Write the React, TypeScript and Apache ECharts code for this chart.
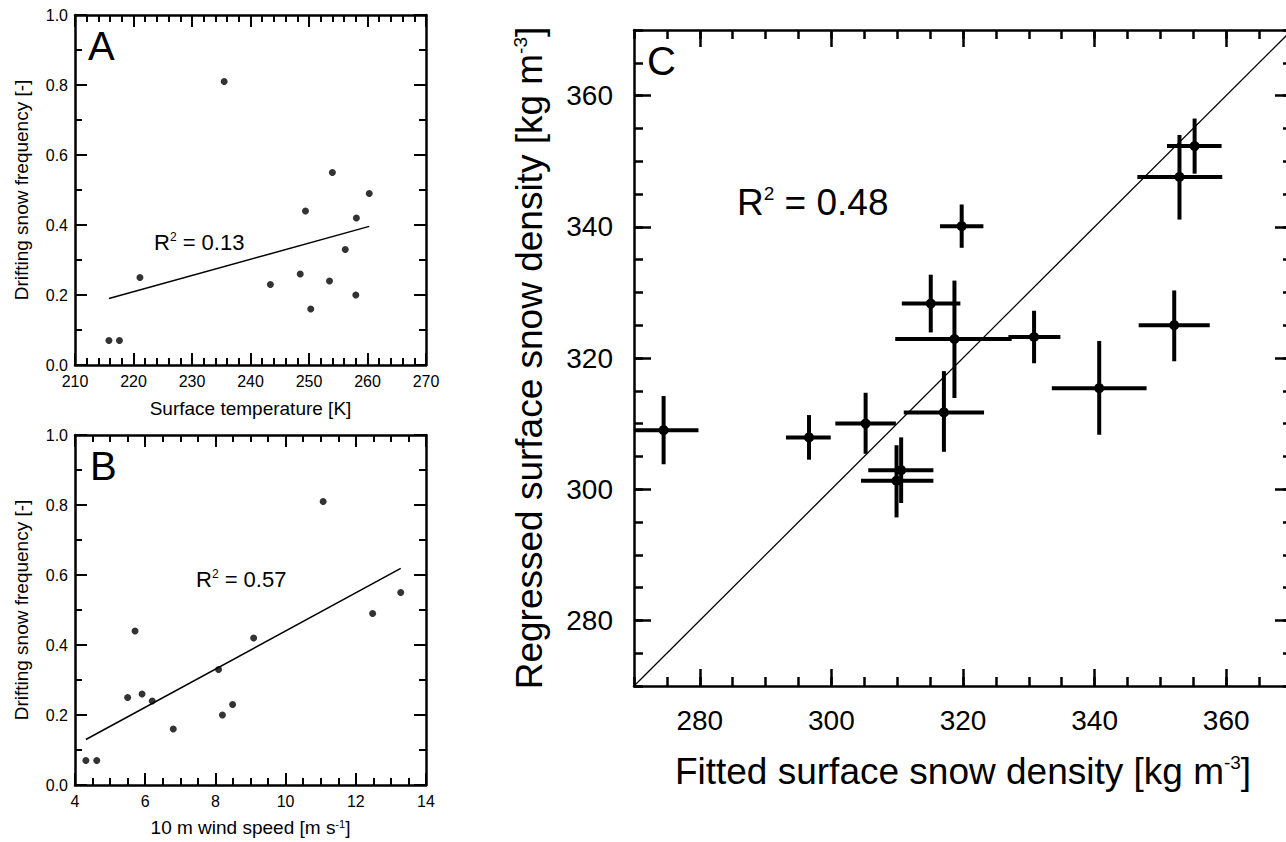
import { useEffect, useRef } from 'react';
import * as echarts from 'echarts';

const FONT = '"Liberation Sans", Arial, Helvetica, sans-serif';
const BLACK = '#000';

// Panel A: surface temperature vs drifting snow frequency
const tempA = [215.8, 217.6, 221.1, 235.5, 243.4, 248.5, 249.4, 250.3, 253.5, 254.0, 256.2, 258.1, 258.0, 260.3];
const freqA = [0.07, 0.07, 0.25, 0.81, 0.23, 0.26, 0.44, 0.16, 0.24, 0.55, 0.33, 0.42, 0.2, 0.49];
const fitA = [[215.8, 0.19], [260.3, 0.396]];

// Panel B: 10 m wind speed vs drifting snow frequency
const windB = [4.31, 4.62, 5.5, 5.71, 5.91, 6.2, 6.8, 8.09, 8.2, 8.49, 9.09, 11.07, 12.48, 13.28];
const freqB = [0.07, 0.07, 0.25, 0.44, 0.26, 0.24, 0.16, 0.33, 0.2, 0.23, 0.42, 0.81, 0.49, 0.55];
const fitB = [[4.31, 0.13], [13.28, 0.619]];

// Panel C: fitted vs regressed surface snow density, with error bars
const fittedC = [355.2, 352.9, 319.8, 315.1, 318.7, 330.8, 352.1, 340.7, 317.1, 310.6, 309.9, 274.5, 296.6, 305.2];
const fittedLoC = [351.0, 346.5, 316.5, 310.7, 309.7, 326.9, 346.7, 333.5, 311.0, 305.6, 304.5, 269.3, 293.1, 300.6];
const fittedHiC = [359.3, 359.4, 323.1, 319.6, 327.4, 334.8, 357.5, 347.9, 323.2, 315.5, 315.5, 279.8, 299.9, 309.8];
const regressedC = [352.3, 347.6, 340.1, 328.3, 322.9, 323.2, 325.0, 315.4, 311.7, 302.9, 301.3, 309.0, 307.9, 310.0];
const regressedLoC = [348.1, 341.1, 336.8, 323.9, 313.9, 319.2, 319.5, 308.3, 305.7, 297.9, 295.7, 303.8, 304.5, 305.4];
const regressedHiC = [356.5, 354.0, 343.4, 332.7, 331.8, 327.2, 330.3, 322.6, 318.0, 307.9, 306.7, 314.2, 311.3, 314.7];
const oneToOne = [270, 370];
const majorTicksC = [280, 300, 320, 340, 360];

const r2Values = ['0.13', '0.57', '0.48'];
const panelLetters = ['A', 'B', 'C'];

function valAxis(o: any) {
  return {
    type: 'value',
    gridIndex: o.grid,
    position: o.pos,
    min: o.min,
    max: o.max,
    interval: o.interval,
    axisLine: { show: o.showLine !== false, onZero: false, lineStyle: { color: BLACK, width: o.lineW } },
    axisTick: {
      show: true,
      inside: true,
      length: o.tickLen,
      lineStyle: { color: BLACK, width: o.tickW },
      ...(o.customTicks ? { customValues: o.customTicks } : {}),
    },
    minorTick: {
      show: !!o.minor,
      splitNumber: o.minor || 5,
      length: o.minorLen || 5,
      lineStyle: { color: BLACK, width: o.tickW },
    },
    splitLine: { show: false },
    minorSplitLine: { show: false },
    axisLabel: {
      show: !!o.showLabel,
      margin: o.labelMargin,
      fontSize: o.labelSize,
      color: BLACK,
      fontFamily: FONT,
      formatter: o.fmt,
      showMinLabel: true,
      showMaxLabel: true,
      ...(o.customLabels ? { customValues: o.customLabels } : {}),
    },
    name: o.name,
    nameLocation: 'middle',
    nameGap: o.nameGap,
    nameTextStyle: {
      fontSize: o.nameSize,
      color: BLACK,
      fontFamily: FONT,
      rich: { sup: { fontSize: o.nameSup, verticalAlign: 'top', fontFamily: FONT, color: BLACK } },
    },
  };
}

const fmt1 = (v: number) => v.toFixed(1);

export default function App() {
  const ref = useRef<HTMLDivElement>(null);
  useEffect(() => {
    if (!ref.current) return;
    const chart = echarts.init(ref.current, undefined, { renderer: 'svg' });

    const smallBase = { lineW: 2.5, tickW: 2, tickLen: 12, minorLen: 7, labelSize: 16, labelMargin: 8, nameSize: 19, nameSup: 11 };
    const bigBase = { lineW: 2.5, tickW: 2.5, labelSize: 28, nameSize: 37, nameSup: 19 };

    const xAxes = [
      valAxis({ ...smallBase, grid: 0, pos: 'bottom', min: 210, max: 270, interval: 10, minor: 5, showLabel: true, name: 'Surface temperature [K]', nameGap: 34 }),
      valAxis({ ...smallBase, grid: 0, pos: 'top', min: 210, max: 270, interval: 10, minor: 5 }),
      valAxis({ ...smallBase, grid: 1, pos: 'bottom', min: 4, max: 14, interval: 2, minor: 4, showLabel: true, name: '10 m wind speed [m s{sup|-1}]', nameGap: 33 }),
      valAxis({ ...smallBase, grid: 1, pos: 'top', min: 4, max: 14, interval: 2, minor: 4 }),
      valAxis({ ...bigBase, grid: 2, pos: 'bottom', min: 270, max: 370, interval: 5, tickLen: 9, showLabel: true, labelMargin: 20, customLabels: majorTicksC, name: 'Fitted surface snow density [kg m{sup|-3}]', nameGap: 67 }),
      valAxis({ ...bigBase, grid: 2, pos: 'top', min: 270, max: 370, interval: 5, tickLen: 9 }),
      valAxis({ ...bigBase, grid: 2, pos: 'bottom', min: 270, max: 370, interval: 5, tickLen: 17, customTicks: majorTicksC, showLine: false }),
      valAxis({ ...bigBase, grid: 2, pos: 'top', min: 270, max: 370, interval: 5, tickLen: 17, customTicks: majorTicksC, showLine: false }),
    ];
    const yAxes = [
      valAxis({ ...smallBase, grid: 0, pos: 'left', min: 0, max: 1, interval: 0.2, minor: 2, showLabel: true, fmt: fmt1, labelMargin: 7, name: 'Drifting snow frequency [-]', nameGap: 44 }),
      valAxis({ ...smallBase, grid: 0, pos: 'right', min: 0, max: 1, interval: 0.2, minor: 2 }),
      valAxis({ ...smallBase, grid: 1, pos: 'left', min: 0, max: 1, interval: 0.2, minor: 2, showLabel: true, fmt: fmt1, labelMargin: 7, name: 'Drifting snow frequency [-]', nameGap: 44 }),
      valAxis({ ...smallBase, grid: 1, pos: 'right', min: 0, max: 1, interval: 0.2, minor: 2 }),
      valAxis({ ...bigBase, grid: 2, pos: 'left', min: 270, max: 370, interval: 5, tickLen: 9, showLabel: true, labelMargin: 21, customLabels: majorTicksC, name: 'Regressed surface snow density [kg m{sup|-3}]', nameGap: 86 }),
      valAxis({ ...bigBase, grid: 2, pos: 'right', min: 270, max: 370, interval: 5, tickLen: 9 }),
      valAxis({ ...bigBase, grid: 2, pos: 'left', min: 270, max: 370, interval: 5, tickLen: 17, customTicks: majorTicksC, showLine: false }),
      valAxis({ ...bigBase, grid: 2, pos: 'right', min: 270, max: 370, interval: 5, tickLen: 17, customTicks: majorTicksC, showLine: false }),
    ];

    const dataA = tempA.map((t, i) => [t, freqA[i]]);
    const dataB = windB.map((w, i) => [w, freqB[i]]);
    const dataC = fittedC.map((x, i) => [x, regressedC[i], fittedLoC[i], fittedHiC[i], regressedLoC[i], regressedHiC[i]]);

    const r2Text = (v: string, size: number, sup: number) => ({
      text: `{r|R}{s|2}{r| = ${v}}`,
      rich: {
        r: { fontSize: size, fontFamily: FONT, fill: BLACK },
        s: { fontSize: sup, fontFamily: FONT, fill: BLACK, verticalAlign: 'top' },
      },
      fill: BLACK,
      align: 'left',
      verticalAlign: 'middle',
    });

    chart.setOption({
      animation: false,
      backgroundColor: '#fff',
      textStyle: { fontFamily: FONT, color: BLACK },
      grid: [
        { left: 75, top: 15, width: 351, height: 350, containLabel: false, outerBoundsMode: 'none' },
        { left: 75, top: 435, width: 351, height: 350, containLabel: false, outerBoundsMode: 'none' },
        { left: 634, top: 30, width: 658, height: 656, containLabel: false, outerBoundsMode: 'none' },
      ],
      xAxis: xAxes,
      yAxis: yAxes,
      series: [
        { type: 'scatter', xAxisIndex: 0, yAxisIndex: 0, data: dataA, symbolSize: 7, itemStyle: { color: BLACK }, z: 3 },
        { type: 'line', xAxisIndex: 0, yAxisIndex: 0, data: fitA, symbol: 'none', lineStyle: { color: BLACK, width: 1.5 } },
        { type: 'scatter', xAxisIndex: 2, yAxisIndex: 2, data: dataB, symbolSize: 7, itemStyle: { color: BLACK }, z: 3 },
        { type: 'line', xAxisIndex: 2, yAxisIndex: 2, data: fitB, symbol: 'none', lineStyle: { color: BLACK, width: 1.5 } },
        {
          type: 'line', xAxisIndex: 4, yAxisIndex: 4,
          data: [[oneToOne[0], oneToOne[0]], [oneToOne[1], oneToOne[1]]],
          symbol: 'none', lineStyle: { color: BLACK, width: 1.3 }, z: 1,
        },
        {
          type: 'custom', xAxisIndex: 4, yAxisIndex: 4, data: dataC, clip: true, z: 3,
          encode: { x: 0, y: 1 },
          renderItem: (_p: any, api: any) => {
            const x = api.value(0), y = api.value(1);
            const c = api.coord([x, y]);
            const a = api.coord([api.value(2), y]);
            const b = api.coord([api.value(3), y]);
            const d = api.coord([x, api.value(4)]);
            const e = api.coord([x, api.value(5)]);
            const st = { stroke: BLACK, lineWidth: 4 };
            return {
              type: 'group',
              children: [
                { type: 'line', shape: { x1: a[0], y1: a[1], x2: b[0], y2: b[1] }, style: st },
                { type: 'line', shape: { x1: d[0], y1: d[1], x2: e[0], y2: e[1] }, style: st },
                { type: 'circle', shape: { cx: c[0], cy: c[1], r: 5 }, style: { fill: BLACK } },
              ],
            };
          },
        },
      ],
      graphic: [
        { type: 'text', x: 88, y: 46, style: { text: panelLetters[0], fontSize: 40, fontFamily: FONT, fill: BLACK, align: 'left', verticalAlign: 'middle' } },
        { type: 'text', x: 90, y: 466, style: { text: panelLetters[1], fontSize: 40, fontFamily: FONT, fill: BLACK, align: 'left', verticalAlign: 'middle' } },
        { type: 'text', x: 647, y: 61, style: { text: panelLetters[2], fontSize: 40, fontFamily: FONT, fill: BLACK, align: 'left', verticalAlign: 'middle' } },
        { type: 'text', x: 154, y: 242, style: r2Text(r2Values[0], 22, 12) },
        { type: 'text', x: 196, y: 579, style: r2Text(r2Values[1], 22, 12) },
        { type: 'text', x: 737, y: 202, style: r2Text(r2Values[2], 37, 19) },
      ],
    });
    return () => chart.dispose();
  }, []);

  return (
    <div style={{ position: 'fixed', left: 0, top: 0, width: 1286, height: 842, overflow: 'hidden', background: '#fff' }}>
      <div ref={ref} style={{ width: 1286, height: 842 }} />
    </div>
  );
}
